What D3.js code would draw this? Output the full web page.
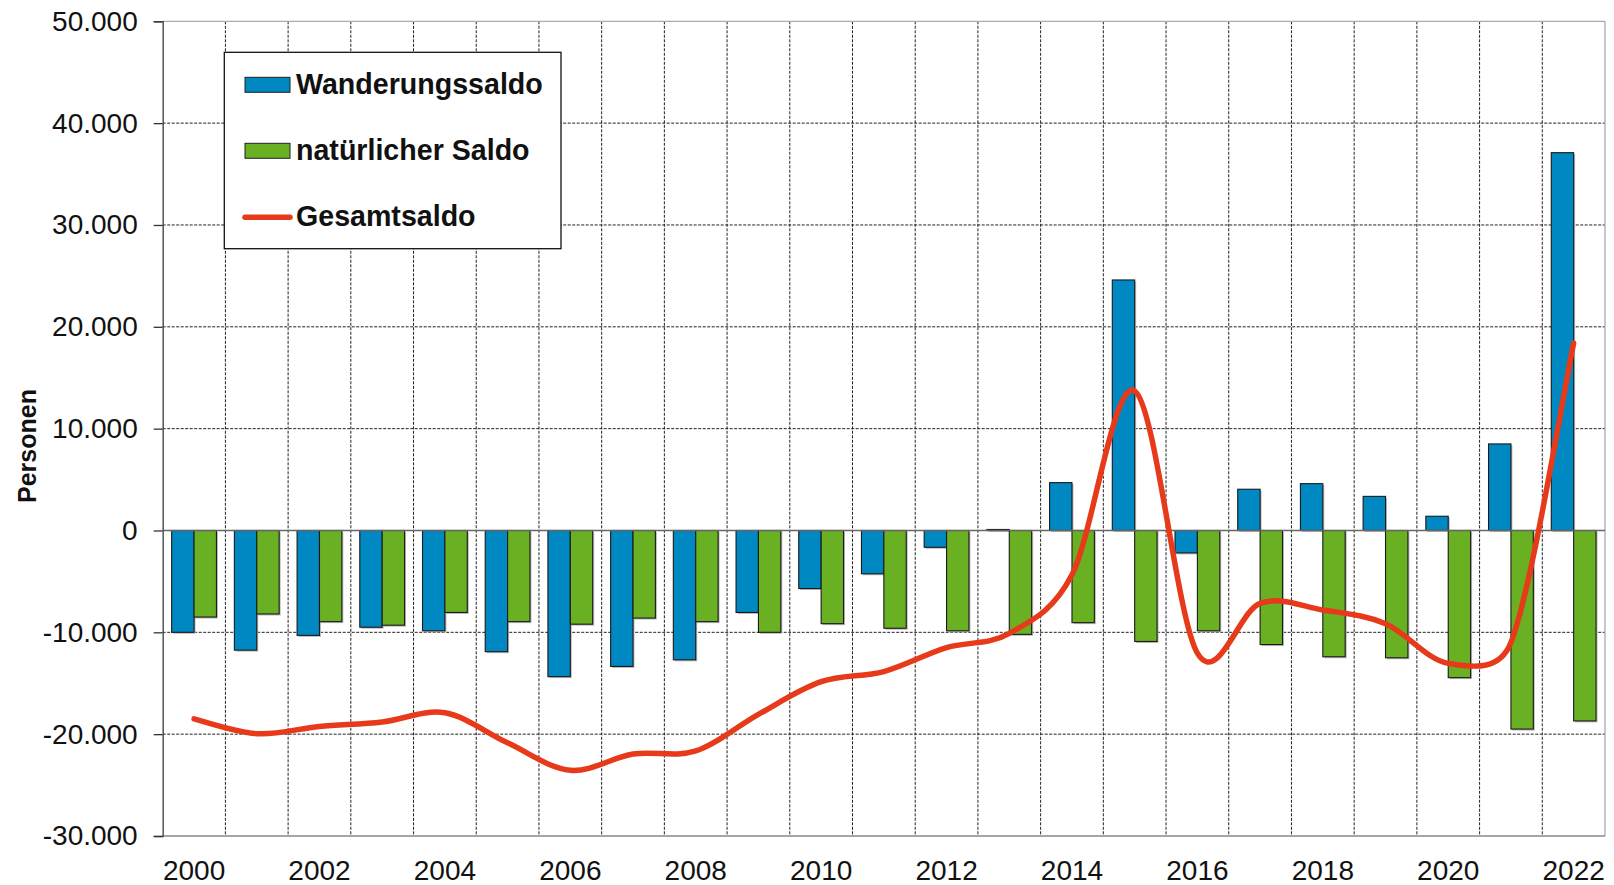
<!DOCTYPE html>
<html>
<head>
<meta charset="utf-8">
<script src="https://cdn.jsdelivr.net/npm/d3@7"></script>
<style>
  html, body { margin: 0; padding: 0; background: #fff; }
  svg { display: block; font-family: "Liberation Sans", Arial, sans-serif; }
</style>
</head>
<body>
<svg id="chart" width="1614" height="885"></svg>
<script>
// Daten
var years = ["2000","2001","2002","2003","2004","2005","2006","2007","2008","2009","2010","2011",
             "2012","2013","2014","2015","2016","2017","2018","2019","2020","2021","2022"];
var wanderung = [-10000, -11750, -10300, -9500, -9850, -11900, -14350, -13350, -12700, -8050, -5700, -4250,
                 -1650, 100, 4700, 24600, -2200, 4050, 4600, 3350, 1400, 8500, 37100];
var natuerlich = [-8500, -8200, -8950, -9300, -8050, -8950, -9200, -8600, -8950, -10000, -9150, -9600,
                  -9850, -10200, -9050, -10900, -9850, -11200, -12400, -12500, -14450, -19500, -18700];
var gesamt = [-18500, -19950, -19250, -18800, -17900, -20850, -23550, -21950, -21650, -18050, -14850, -13850,
              -11500, -10100, -4350, 13700, -12050, -7150, -7800, -9150, -13050, -11000, 18400];
var yTicks = [-30000, -20000, -10000, 0, 10000, 20000, 30000, 40000, 50000];
var xLabels = ["2000","2002","2004","2006","2008","2010","2012","2014","2016","2018","2020","2022"];
var seriesNames = ["Wanderungssaldo", "natürlicher Saldo", "Gesamtsaldo"];

// - - - - Einstellungen - - - -
// (nicht "top" nennen: window.top ist schreibgeschützt)
var plotL = 162.7, plotR = 1605, plotT = 21.3, plotB = 836;
var colBlue = "#0088c2", colGreen = "#6ab023", colRed = "#e63a1a";
// - - - - - - - - - - - - - - -

var svg = d3.select("#chart");
var de = d3.formatLocale({decimal: ",", thousands: ".", grouping: [3], currency: ["", "€"], minus: "-"});
var fmt = de.format(",.0f");

var x = d3.scaleBand().domain(years).range([plotL, plotR]).padding(0);
var y = d3.scaleLinear().domain([-30000, 50000]).range([plotB, plotT]);
var bw = x.bandwidth();
var xs = d3.scaleBand().domain(["w", "n"]).range([bw * 0.143, bw * 0.857]).padding(0);

// Gitter
var grid = svg.append("g");
grid.selectAll("line.h")
  .data(yTicks.filter(function(d){ return d !== 0 && d !== 50000 && d !== -30000; }))
  .enter().append("line")
  .attr("x1", plotL).attr("x2", plotR)
  .attr("y1", function(d){ return y(d); }).attr("y2", function(d){ return y(d); })
  .attr("stroke", "#222").attr("stroke-width", 1).attr("stroke-dasharray", "3,1.5");
grid.selectAll("line.v")
  .data(years.slice(1))
  .enter().append("line")
  .attr("x1", function(d){ return x(d); }).attr("x2", function(d){ return x(d); })
  .attr("y1", plotT).attr("y2", plotB)
  .attr("stroke", "#222").attr("stroke-width", 1).attr("stroke-dasharray", "3,1.5");

// Rahmen
svg.append("line").attr("x1", plotL).attr("x2", plotR).attr("y1", plotT).attr("y2", plotT)
  .attr("stroke", "#aaa").attr("stroke-width", 1.3);
svg.append("line").attr("x1", plotR).attr("x2", plotR).attr("y1", plotT).attr("y2", plotB)
  .attr("stroke", "#aaa").attr("stroke-width", 1.3);
svg.append("line").attr("x1", plotL).attr("x2", plotR).attr("y1", plotB).attr("y2", plotB)
  .attr("stroke", "#888").attr("stroke-width", 1.3);

// Balken
function drawBars(values, key, color) {
  var g = svg.append("g");
  var rows = years.map(function(yr, i){ return {year: yr, v: values[i]}; });
  g.selectAll("rect.s").data(rows).enter().append("rect")
    .attr("x", function(d){ return x(d.year) + xs(key) + 1.5; })
    .attr("y", function(d){ return Math.min(y(d.v), y(0)) + 1.5; })
    .attr("width", xs.bandwidth())
    .attr("height", function(d){ return Math.abs(y(d.v) - y(0)); })
    .attr("fill", "#bbb");
  g.selectAll("rect.b").data(rows).enter().append("rect")
    .attr("x", function(d){ return x(d.year) + xs(key); })
    .attr("y", function(d){ return Math.min(y(d.v), y(0)); })
    .attr("width", xs.bandwidth())
    .attr("height", function(d){ return Math.abs(y(d.v) - y(0)); })
    .attr("fill", color).attr("stroke", "#1a1a1a").attr("stroke-width", 1.1);
}
drawBars(wanderung, "w", colBlue);
drawBars(natuerlich, "n", colGreen);

// Nulllinie
svg.append("line").attr("x1", plotL).attr("x2", plotR).attr("y1", y(0)).attr("y2", y(0))
  .attr("stroke", "#666").attr("stroke-width", 1.5);

// y-Achse
var yAxis = d3.axisLeft(y).tickValues(yTicks).tickSize(9).tickPadding(16).tickFormat(fmt);
var ya = svg.append("g").attr("transform", "translate(" + plotL + ",0)").call(yAxis);
ya.select(".domain").attr("stroke", "#555").attr("stroke-width", 1.5);
ya.selectAll(".tick line").attr("stroke", "#333").attr("stroke-width", 1.3);
ya.selectAll(".tick text").attr("font-size", 28).attr("fill", "#111")
  .attr("font-family", "Liberation Sans, Arial, sans-serif");

// x-Achse (Beschriftung nur jedes zweite Jahr)
var xAxis = d3.axisBottom(x).tickValues(xLabels).tickSize(0).tickPadding(24);
var xa = svg.append("g").attr("transform", "translate(0," + plotB + ")").call(xAxis);
xa.select(".domain").remove();
xa.selectAll(".tick text").attr("font-size", 28).attr("fill", "#111")
  .attr("font-family", "Liberation Sans, Arial, sans-serif");

// Gesamtsaldo: Glättung wie in Excel (Bezier, Faktor 1/6, Arm max. halbe Segmentlänge)
function smoothPath(pts) {
  var p = d3.path();
  var dist = function(a, b){ return Math.hypot(b[0] - a[0], b[1] - a[1]); };
  p.moveTo(pts[0][0], pts[0][1]);
  for (var i = 0; i < pts.length - 1; i++) {
    var p0 = pts[Math.max(i - 1, 0)], p1 = pts[i], p2 = pts[i + 1], p3 = pts[Math.min(i + 2, pts.length - 1)];
    var d12 = dist(p1, p2), d02 = dist(p0, p2), d13 = dist(p1, p3);
    var f1 = 1 / 6, f2 = 1 / 6;
    if (d02 / 6 > d12 / 2) f1 = d12 / (2 * d02);
    if (d13 / 6 > d12 / 2) f2 = d12 / (2 * d13);
    p.bezierCurveTo(
      p1[0] + f1 * (p2[0] - p0[0]), p1[1] + f1 * (p2[1] - p0[1]),
      p2[0] - f2 * (p3[0] - p1[0]), p2[1] - f2 * (p3[1] - p1[1]),
      p2[0], p2[1]);
  }
  return p.toString();
}
var linePts = gesamt.map(function(v, i){ return [x(years[i]) + bw / 2, y(v)]; });
svg.append("path")
  .attr("d", smoothPath(linePts))
  .attr("fill", "none").attr("stroke", colRed).attr("stroke-width", 5.5)
  .attr("stroke-linecap", "round").attr("stroke-linejoin", "round");

// Achsentitel
svg.append("text")
  .attr("transform", "translate(36,446) rotate(-90)")
  .attr("text-anchor", "middle")
  .attr("font-size", 25).attr("font-weight", "bold").attr("fill", "#111")
  .text("Personen");

// Legende
var lg = svg.append("g");
lg.append("rect").attr("x", 224.3).attr("y", 52.3).attr("width", 336.7).attr("height", 196.4)
  .attr("fill", "#fff").attr("stroke", "#111").attr("stroke-width", 1.3);
lg.append("rect").attr("x", 245).attr("y", 77.3).attr("width", 45).attr("height", 15)
  .attr("fill", colBlue).attr("stroke", "#222").attr("stroke-width", 1);
lg.append("rect").attr("x", 245).attr("y", 143.3).attr("width", 45).attr("height", 15)
  .attr("fill", colGreen).attr("stroke", "#222").attr("stroke-width", 1);
lg.append("line").attr("x1", 245).attr("x2", 290).attr("y1", 217.3).attr("y2", 217.3)
  .attr("stroke", colRed).attr("stroke-width", 5.5).attr("stroke-linecap", "round");
var lyBase = [93.5, 159.5, 225.5];
lg.selectAll("text.l").data(seriesNames).enter().append("text")
  .attr("x", 296).attr("y", function(d, i){ return lyBase[i]; })
  .attr("font-size", 28.6).attr("font-weight", "bold").attr("fill", "#111")
  .text(function(d){ return d; });
</script>
</body>
</html>
